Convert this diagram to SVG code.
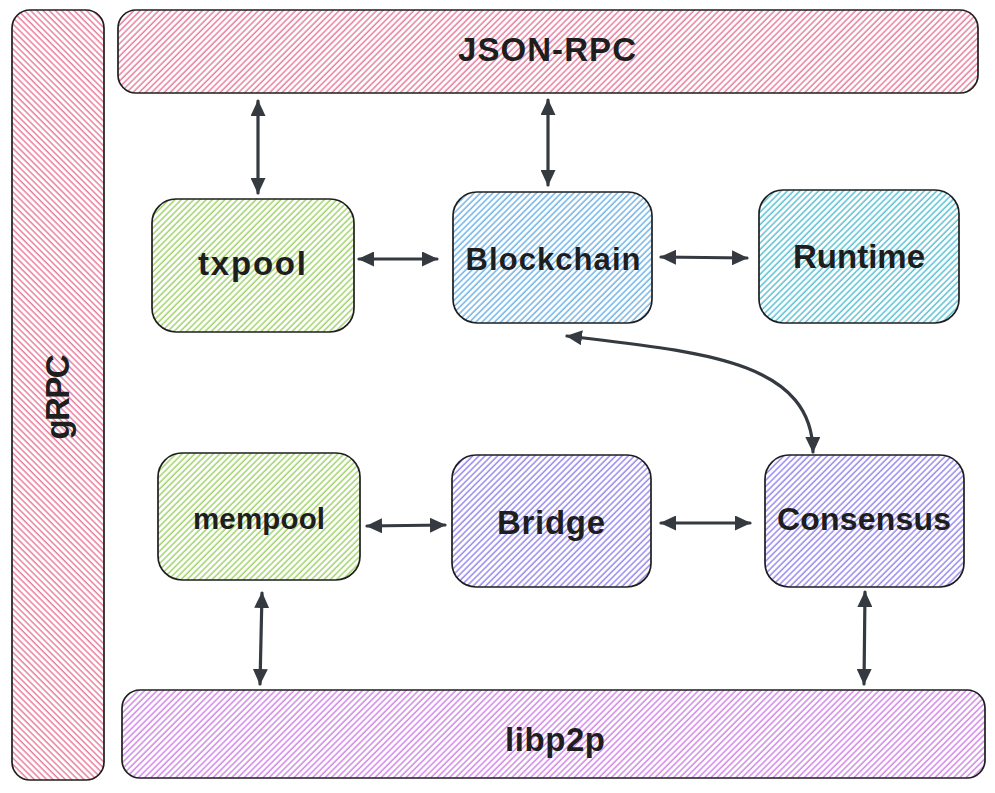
<svg xmlns="http://www.w3.org/2000/svg" width="995" height="793" viewBox="0 0 995 793">
  <defs>
    <pattern id="hPink" patternUnits="userSpaceOnUse" width="4.4" height="4.4" patternTransform="rotate(45)">
      <line x1="1" y1="0" x2="1" y2="4.4" stroke="#e97799" stroke-width="1.4"/>
    </pattern>
    <pattern id="hPinkV" patternUnits="userSpaceOnUse" width="4.4" height="4.4" patternTransform="rotate(-45)">
      <line x1="1" y1="0" x2="1" y2="4.4" stroke="#e97799" stroke-width="1.4"/>
    </pattern>
    <pattern id="hBlue" patternUnits="userSpaceOnUse" width="4.4" height="4.4" patternTransform="rotate(45)">
      <line x1="1" y1="0" x2="1" y2="4.4" stroke="#68afe9" stroke-width="1.4"/>
    </pattern>
    <pattern id="hCyan" patternUnits="userSpaceOnUse" width="4.4" height="4.4" patternTransform="rotate(45)">
      <line x1="1" y1="0" x2="1" y2="4.4" stroke="#52bfd2" stroke-width="1.4"/>
    </pattern>
    <pattern id="hGreen" patternUnits="userSpaceOnUse" width="4.4" height="4.4" patternTransform="rotate(45)">
      <line x1="1" y1="0" x2="1" y2="4.4" stroke="#9cd164" stroke-width="1.4"/>
    </pattern>
    <pattern id="hViolet" patternUnits="userSpaceOnUse" width="4.4" height="4.4" patternTransform="rotate(45)">
      <line x1="1" y1="0" x2="1" y2="4.4" stroke="#9182f0" stroke-width="1.4"/>
    </pattern>
    <pattern id="hGrape" patternUnits="userSpaceOnUse" width="4.4" height="4.4" patternTransform="rotate(45)">
      <line x1="1" y1="0" x2="1" y2="4.4" stroke="#cf80e8" stroke-width="1.4"/>
    </pattern>
    <marker id="ah" viewBox="0 0 16 15" refX="15" refY="7.5" markerWidth="16" markerHeight="15" markerUnits="userSpaceOnUse" orient="auto-start-reverse">
      <path d="M0,0 L16,7.5 L0,15 Z" fill="#343a40"/>
    </marker>
  </defs>
  <style>
    .box { stroke: #1e1e1e; stroke-width: 1.7; }
    .lbl { font-family: "Liberation Sans", "DejaVu Sans", sans-serif; font-size: 33px; font-weight: bold; fill: #1e1e1e; text-anchor: middle; }
    .conn { fill: none; stroke: #343a40; stroke-width: 3.2; stroke-linecap: round; marker-start: url(#ah); marker-end: url(#ah); }
  </style>
  <rect width="995" height="793" fill="#ffffff"/>

  <g id="grpc">
    <rect class="box" x="12" y="10" width="92" height="770" rx="18" fill="url(#hPinkV)"/>
    <text class="lbl" transform="translate(69,397) rotate(-90)" textLength="85">gRPC</text>
  </g>
  <g id="jsonrpc">
    <rect class="box" x="118" y="10" width="860" height="83" rx="18" fill="url(#hPink)"/>
    <text class="lbl" x="547" y="61" textLength="178">JSON-RPC</text>
  </g>
  <g id="libp2p">
    <rect class="box" x="122" y="690" width="863" height="88" rx="18" fill="url(#hGrape)"/>
    <text class="lbl" x="555" y="751" textLength="100">libp2p</text>
  </g>
  <g id="txpool">
    <rect class="box" x="152" y="199" width="202" height="133" rx="24" fill="url(#hGreen)"/>
    <text class="lbl" x="252" y="275" textLength="108">txpool</text>
  </g>
  <g id="blockchain">
    <rect class="box" x="453" y="192" width="199" height="131" rx="24" fill="url(#hBlue)"/>
    <text class="lbl" x="553" y="270" style="font-size:31px" textLength="175">Blockchain</text>
  </g>
  <g id="runtime">
    <rect class="box" x="759" y="190" width="200" height="133" rx="24" fill="url(#hCyan)"/>
    <text class="lbl" x="859" y="268" textLength="132">Runtime</text>
  </g>
  <g id="mempool">
    <rect class="box" x="158" y="453" width="202" height="127" rx="24" fill="url(#hGreen)"/>
    <text class="lbl" x="259" y="529" style="font-size:29.5px" textLength="132">mempool</text>
  </g>
  <g id="bridge">
    <rect class="box" x="452" y="455" width="199" height="132" rx="24" fill="url(#hViolet)"/>
    <text class="lbl" x="551" y="534" textLength="108">Bridge</text>
  </g>
  <g id="consensus">
    <rect class="box" x="765" y="455" width="199" height="132" rx="24" fill="url(#hViolet)"/>
    <text class="lbl" x="864" y="530" style="font-size:32px" textLength="174">Consensus</text>
  </g>

  <g id="connectors">
    <line class="conn" x1="258" y1="101" x2="258" y2="193"/>
    <line class="conn" x1="548" y1="100" x2="548" y2="185"/>
    <line class="conn" x1="359" y1="259" x2="437" y2="259"/>
    <line class="conn" x1="661" y1="257" x2="747" y2="258"/>
    <path class="conn" d="M567,336 C700,352 812,360 813,452"/>
    <line class="conn" x1="367" y1="526" x2="445" y2="525"/>
    <line class="conn" x1="661" y1="523" x2="750" y2="523"/>
    <line class="conn" x1="262" y1="593" x2="260" y2="684"/>
    <line class="conn" x1="865" y1="592" x2="864" y2="684"/>
  </g>
</svg>
